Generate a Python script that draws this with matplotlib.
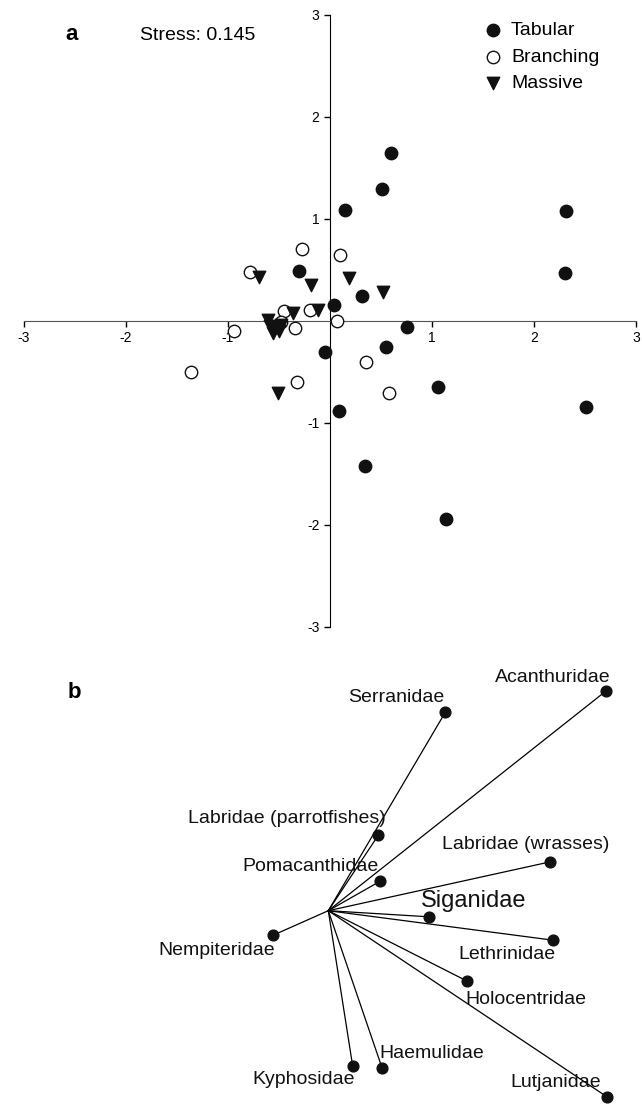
import matplotlib
matplotlib.use("Agg")
import matplotlib.pyplot as plt
import numpy as np

plt.rcParams['font.family'] = ['Liberation Sans', 'DejaVu Sans']

# panel a: nMDS site scores by coral type
tab_x = [0.60, 0.51, 0.15, 2.31, 2.30, -0.30, 0.31, 0.04, 0.75, 0.55, -0.05, 0.09, 1.06, 2.51, 0.34, 1.14]
tab_y = [1.65, 1.29, 1.09, 1.08, 0.47, 0.49, 0.25, 0.16, -0.06, -0.25, -0.30, -0.88, -0.65, -0.84, -1.42, -1.94]

br_x = [-0.27, 0.10, -0.78, -0.45, -0.20, 0.07, -0.94, -0.34, -0.48, -1.36, 0.35, -0.32, 0.58]
br_y = [0.71, 0.65, 0.48, 0.10, 0.11, 0.00, -0.10, -0.07, -0.01, -0.50, -0.40, -0.60, -0.71]

ms_x = [-0.70, -0.19, 0.19, 0.52, -0.12, -0.36, -0.51, -0.61, -0.53, -0.56, -0.48, -0.59, -0.50]
ms_y = [0.43, 0.35, 0.42, 0.28, 0.11, 0.08, -0.71, 0.01, -0.06, -0.12, -0.04, -0.05, -0.10]

ticks = [-3, -2, -1, 1, 2, 3]

# panel b: fish family vectors
families = ['Acanthuridae', 'Serranidae', 'Labridae (parrotfishes)', 'Pomacanthidae',
            'Labridae (wrasses)', 'Siganidae', 'Lethrinidae', 'Holocentridae',
            'Nempiteridae', 'Kyphosidae', 'Haemulidae', 'Lutjanidae']
vec_x = [2.73, 1.15, 0.49, 0.51, 2.18, 0.99, 2.21, 1.36, -0.54, 0.24, 0.53, 2.74]
vec_y = [2.16, 1.95, 0.74, 0.29, 0.48, -0.06, -0.29, -0.69, -0.24, -1.53, -1.55, -1.83]

# label offsets in pixels (layout only)
lab_dx = [-53, -49, -91, -70, -24, 45, -46, 59, -57, -49, 50, -51]
lab_dy = [14, 15, 17, 15, 17, 16, -14, -19, -15, -13, 15, 14]

W, H = 642, 1104
fig = plt.figure(figsize=(W / 100, H / 100), dpi=100)

ax = fig.add_axes([24 / W, 1 - 627 / H, 612 / W, 612 / H])
ax.set_xlim(-3, 3)
ax.set_ylim(-3, 3)
for s in ['top', 'right']:
    ax.spines[s].set_visible(False)
ax.spines['left'].set_position(('data', 0))
ax.spines['bottom'].set_position(('data', 0))
ax.spines['bottom'].set_color('#555555')
ax.spines['left'].set_color('black')
ax.set_xticks(ticks)
ax.set_yticks(ticks)
ax.set_xticklabels([str(t) for t in ticks])
ax.set_yticklabels([str(t) for t in ticks])
ax.tick_params(direction='out', length=4, labelsize=10, width=1)

ms = 80
ax.scatter(tab_x, tab_y, s=ms, marker='o', color='#111111', zorder=3, label='Tabular')
ax.scatter(br_x, br_y, s=ms, marker='o', facecolor='white', edgecolor='#111111',
           linewidths=1, zorder=3, label='Branching')
ax.scatter(ms_x, ms_y, s=ms, marker='v', color='#111111', zorder=4, label='Massive')

ax.legend(loc='upper left', bbox_to_anchor=(472 / W, 1 - 12 / H),
          bbox_transform=fig.transFigure, frameon=False, fontsize=14,
          handletextpad=0.3, labelspacing=0.45, scatterpoints=1,
          borderpad=0, handlelength=1.2)

fig.text(72 / W, 1 - 35 / H, 'a', fontsize=16, fontweight='bold', ha='center', va='center')
fig.text(140 / W, 1 - 35 / H, 'Stress: 0.145', fontsize=14, ha='left', va='center')
fig.text(74 / W, 1 - 692 / H, 'b', fontsize=16, fontweight='bold', ha='center', va='center')

# panel b
bx = fig.add_axes([0, 0, 1, 460 / H])
bx.set_xlim(-328.3 / 101.7, (W - 328.3) / 101.7)
bx.set_ylim((910.7 - H) / 101.7, (910.7 - 644) / 101.7)
bx.axis('off')
for i, name in enumerate(families):
    bx.plot([0, vec_x[i]], [0, vec_y[i]], color='black', lw=0.9, zorder=2)
bx.scatter(vec_x, vec_y, s=60, color='#111111', zorder=3, clip_on=False)
for i, name in enumerate(families):
    fs = 17 if name == 'Siganidae' else 14
    bx.annotate(name, (vec_x[i], vec_y[i]), xytext=(lab_dx[i], lab_dy[i]),
                textcoords='offset pixels', ha='center', va='center',
                fontsize=fs, color='#111111')

fig.savefig('out.png', dpi=100)
